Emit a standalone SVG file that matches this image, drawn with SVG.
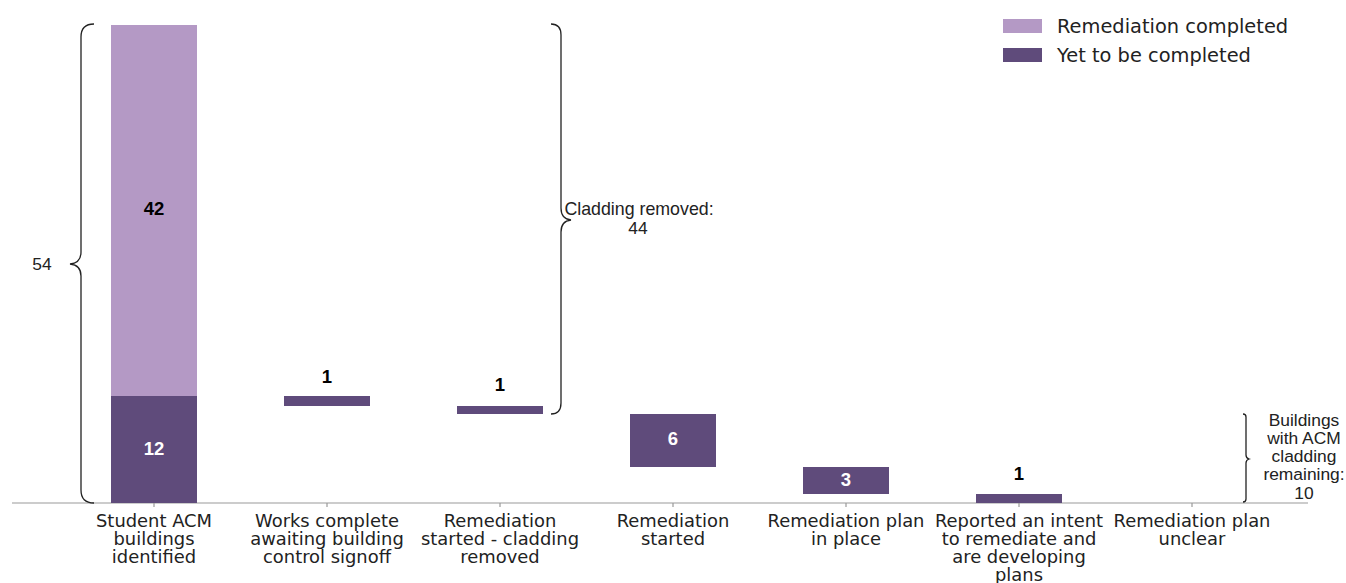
<svg xmlns="http://www.w3.org/2000/svg" width="1346" height="583" viewBox="0 0 1346 583">
<style>
.light{fill:#b499c5}
.dark{fill:#5f4b7b}
.ax{font-family:"DejaVu Sans",sans-serif;font-size:17.9px;fill:#222;text-anchor:middle}
.val{font-family:"Liberation Sans",Arial,sans-serif;font-size:18.5px;font-weight:bold;text-anchor:middle}
.ann{font-family:"Liberation Sans",Arial,sans-serif;font-size:17.4px;fill:#222;text-anchor:middle}
.brace{fill:none;stroke:#222;stroke-width:1.3}
.leg{font-family:"DejaVu Sans",sans-serif;font-size:19.4px;fill:#222}
</style>
<rect width="1346" height="583" fill="#fff"/>
<g id="axis">
<line x1="12" y1="503" x2="1308" y2="503" stroke="#999" stroke-width="1.2"/>
<g stroke="#999" stroke-width="1.2">
<line x1="154" y1="503" x2="154" y2="507"/>
<line x1="327" y1="503" x2="327" y2="507"/>
<line x1="500" y1="503" x2="500" y2="507"/>
<line x1="673" y1="503" x2="673" y2="507"/>
<line x1="846" y1="503" x2="846" y2="507"/>
<line x1="1019" y1="503" x2="1019" y2="507"/>
<line x1="1192" y1="503" x2="1192" y2="507"/>
</g>
</g>
<g id="bar-identified">
<rect class="light" x="111" y="25" width="86" height="371"/>
<rect class="dark" x="111" y="396" width="86" height="107"/>
<text class="val" x="154" y="215" fill="#000">42</text>
<text class="val" x="154" y="455" fill="#fff">12</text>
<text class="ax" x="154" y="527">Student ACM</text>
<text class="ax" x="154" y="545">buildings</text>
<text class="ax" x="154" y="563">identified</text>
</g>
<g id="bar-works-complete">
<rect class="dark" x="284" y="396" width="86" height="10"/>
<text class="val" x="327" y="383" fill="#000">1</text>
<text class="ax" x="327" y="527">Works complete</text>
<text class="ax" x="327" y="545">awaiting building</text>
<text class="ax" x="327" y="563">control signoff</text>
</g>
<g id="bar-cladding-removed">
<rect class="dark" x="457" y="406" width="86" height="8"/>
<text class="val" x="500" y="391" fill="#000">1</text>
<text class="ax" x="500" y="527">Remediation</text>
<text class="ax" x="500" y="545">started - cladding</text>
<text class="ax" x="500" y="563">removed</text>
</g>
<g id="bar-started">
<rect class="dark" x="630" y="414" width="86" height="53"/>
<text class="val" x="673" y="445" fill="#fff">6</text>
<text class="ax" x="673" y="527">Remediation</text>
<text class="ax" x="673" y="545">started</text>
</g>
<g id="bar-plan">
<rect class="dark" x="803" y="467" width="86" height="27"/>
<text class="val" x="846" y="486" fill="#fff">3</text>
<text class="ax" x="846" y="527">Remediation plan</text>
<text class="ax" x="846" y="545">in place</text>
</g>
<g id="bar-intent">
<rect class="dark" x="976" y="494" width="86" height="9"/>
<text class="val" x="1019" y="480" fill="#000">1</text>
<text class="ax" x="1019" y="527">Reported an intent</text>
<text class="ax" x="1019" y="545">to remediate and</text>
<text class="ax" x="1019" y="563">are developing</text>
<text class="ax" x="1019" y="581">plans</text>
</g>
<g id="bar-unclear">
<text class="ax" x="1192" y="527">Remediation plan</text>
<text class="ax" x="1192" y="545">unclear</text>
</g>
<g id="connectors">
<path class="brace" d="M94,24 Q81,24 81,37 L81,252 Q81,263 70,264 Q81,265 81,276 L81,490 Q81,503 94,503"/>
<path class="brace" d="M551,24 Q561,24 561,35 L561,208 Q561,219 571,220 Q561,221 561,232 L561,403 Q561,414 551,414"/>
<path class="brace" d="M1243,414 Q1246,414 1246,417 L1246,455 Q1246,458 1249,459 Q1246,460 1246,463 L1246,499 Q1246,502 1243,502"/>
</g>
<g id="annotations">
<text class="ann" x="42" y="270">54</text>
<text class="ann" x="639" y="215" style="font-size:17.8px">Cladding removed:</text>
<text class="ann" x="638" y="234">44</text>
<text class="ann" x="1304" y="426">Buildings</text>
<text class="ann" x="1304" y="444">with ACM</text>
<text class="ann" x="1304" y="462">cladding</text>
<text class="ann" x="1304" y="480">remaining:</text>
<text class="ann" x="1304" y="499">10</text>
</g>
<g id="legend">
<rect class="light" x="1003" y="19" width="39" height="14"/>
<rect class="dark" x="1003" y="48" width="39" height="14"/>
<text class="leg" x="1057" y="33">Remediation completed</text>
<text class="leg" x="1057" y="62">Yet to be completed</text>
</g>
</svg>
